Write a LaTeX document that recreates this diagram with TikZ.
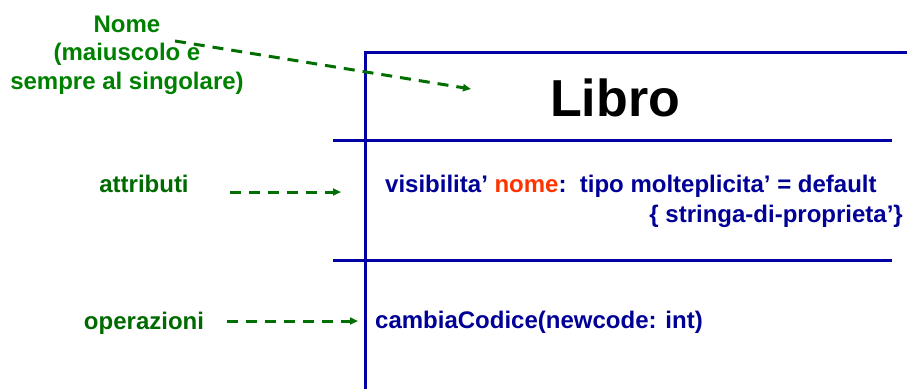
\documentclass[tikz,border=0pt]{standalone}
\usepackage{fontspec}
\setmainfont{Liberation Sans}
\usetikzlibrary{arrows.meta}
\definecolor{nomegreen}{RGB}{0,128,0}
\definecolor{labgreen}{RGB}{0,105,0}
\definecolor{arrgreen}{RGB}{0,110,0}
\definecolor{umlblue}{RGB}{0,0,150}
\definecolor{lineblue}{RGB}{0,0,165}
\definecolor{nomered}{RGB}{255,51,0}
\tikzset{
  boxline/.style={draw=lineblue,line width=3pt},
  notearrow/.style={draw=arrgreen,line width=3pt,dash pattern=on 11pt off 8pt,-{Triangle[length=8pt,width=7pt]}},
  labtext/.style={inner sep=0pt,font=\fontsize{24}{28.5}\selectfont\bfseries,text=labgreen},
  umltext/.style={inner sep=0pt,font=\fontsize{24}{28}\selectfont\bfseries,text=umlblue},
}
\begin{document}
\begin{tikzpicture}[x=1pt,y=-1pt]
\useasboundingbox (0,0) rectangle (907,389);
% class box
\coordinate (tl) at (365,52);
\coordinate (tr) at (907,52);
\coordinate (bl) at (365,389);
\coordinate (s1l) at (333,140);
\coordinate (s1r) at (892,140);
\coordinate (s2l) at (333,260);
\coordinate (s2r) at (892,260);
\draw[boxline] (bl) -- (tl) -- (tr);
\draw[boxline] (s1l) -- (s1r);
\draw[boxline] (s2l) -- (s2r);
% class name
\node[anchor=base,inner sep=0pt,font=\fontsize{52}{60}\selectfont\bfseries] (libro) at (615,116) {Libro};
% attributes
\node[umltext,anchor=base west] (attr1) at (385,192) {visibilita’ \textcolor{nomered}{nome}:\ \ tipo molteplicita’ = default};
\node[umltext,anchor=base east] (attr2) at (903,222) {\{ stringa-di-proprieta’\}};
% operations
\node[umltext,anchor=base west] (op) at (375,328) {cambiaCodice(newcode: int)};
% notes
\node[labtext,text=nomegreen,align=center,anchor=base] (nome) at (127,89) {Nome\\(maiuscolo e\\sempre al singolare)};
\node[labtext,anchor=base] (attrlab) at (144,192) {attributi};
\node[labtext,anchor=base] (oplab) at (144,329) {operazioni};
% arrows
\coordinate (n0) at (175,41);
\coordinate (n1) at (471,89);
\coordinate (a0) at (230,192);
\coordinate (a1) at (341,192);
\coordinate (o0) at (227,321);
\coordinate (o1) at (358,321);
\draw[notearrow] (n0) -- (n1);
\draw[notearrow] (a0) -- (a1);
\draw[notearrow] (o0) -- (o1);
\end{tikzpicture}
\end{document}
